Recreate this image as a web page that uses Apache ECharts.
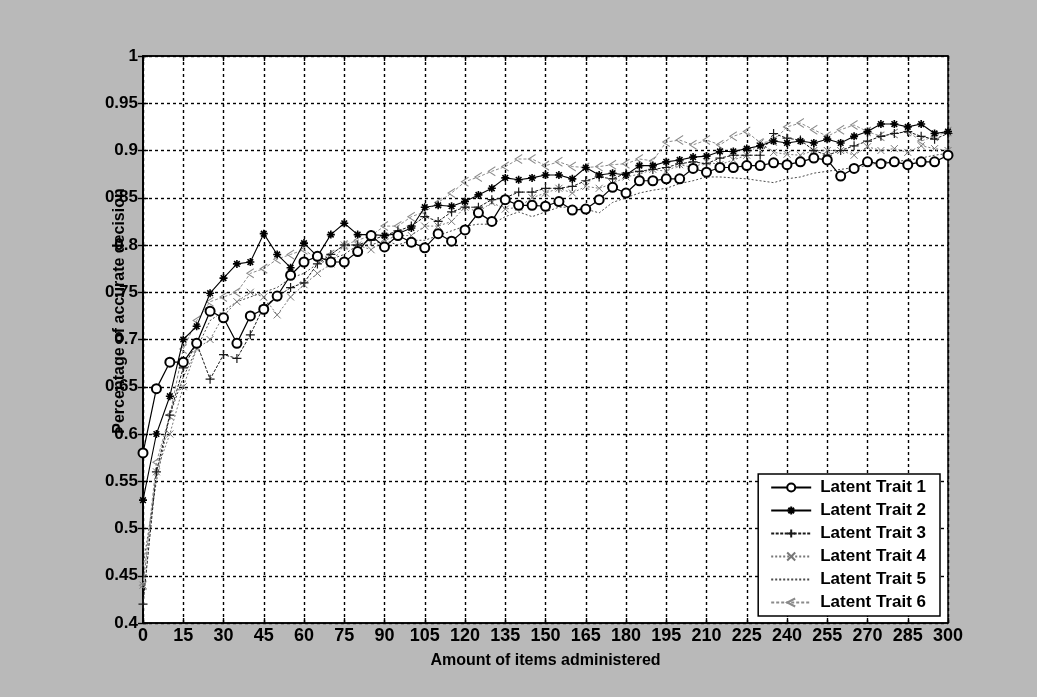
<!DOCTYPE html>
<html>
<head>
<meta charset="utf-8">
<script src="https://cdn.jsdelivr.net/npm/echarts@6/dist/echarts.min.js"></script>
<style>
  html, body { margin: 0; padding: 0; background: #b9b9b9; }
  #chart { width: 1037px; height: 697px; }
</style>
</head>
<body>
<div id="chart"></div>
<script>
// Number of items administered at each measurement
const items = [0,5,10,15,20,25,30,35,40,45,50,55,60,65,70,75,80,85,90,95,100,
  105,110,115,120,125,130,135,140,145,150,155,160,165,170,175,180,185,190,195,200,
  205,210,215,220,225,230,235,240,245,250,255,260,265,270,275,280,285,290,295,300];

// Proportion of accurate decisions per latent trait
const trait1 = [0.580,0.648,0.676,0.676,0.696,0.730,0.723,0.696,0.725,0.732,0.746,
  0.768,0.782,0.788,0.782,0.782,0.793,0.810,0.798,0.810,0.803,
  0.797,0.812,0.804,0.816,0.834,0.825,0.848,0.842,0.842,0.841,
  0.846,0.837,0.838,0.848,0.861,0.855,0.868,0.868,0.870,0.870,
  0.881,0.877,0.882,0.882,0.884,0.884,0.887,0.885,0.888,0.892,
  0.890,0.873,0.881,0.888,0.886,0.888,0.885,0.888,0.888,0.895];
const trait2 = [0.530,0.600,0.640,0.700,0.714,0.749,0.765,0.780,0.782,0.812,0.790,
  0.776,0.802,0.788,0.811,0.823,0.811,0.811,0.810,0.812,0.818,
  0.840,0.842,0.841,0.846,0.853,0.860,0.871,0.869,0.871,0.874,
  0.874,0.870,0.882,0.874,0.876,0.874,0.884,0.884,0.888,0.890,
  0.893,0.894,0.899,0.899,0.902,0.905,0.910,0.908,0.910,0.908,
  0.912,0.908,0.915,0.920,0.928,0.928,0.925,0.928,0.918,0.920];
const trait3 = [0.420,0.560,0.620,0.670,0.696,0.658,0.684,0.680,0.705,0.735,0.745,
  0.755,0.760,0.780,0.790,0.800,0.800,0.805,0.810,0.815,0.820,
  0.830,0.825,0.835,0.840,0.840,0.848,0.850,0.856,0.856,0.860,
  0.860,0.862,0.868,0.872,0.870,0.876,0.878,0.880,0.882,0.886,
  0.888,0.886,0.892,0.895,0.895,0.895,0.918,0.913,0.911,0.900,
  0.895,0.900,0.905,0.910,0.915,0.918,0.920,0.915,0.912,0.918];
const trait4 = [0.440,0.560,0.600,0.650,0.690,0.700,0.725,0.740,0.750,0.745,0.726,
  0.745,0.758,0.770,0.780,0.800,0.800,0.795,0.805,0.810,0.810,
  0.820,0.820,0.825,0.840,0.835,0.845,0.838,0.840,0.850,0.855,
  0.860,0.855,0.862,0.860,0.865,0.872,0.875,0.880,0.878,0.885,
  0.882,0.888,0.885,0.890,0.895,0.908,0.898,0.896,0.895,0.900,
  0.900,0.900,0.895,0.904,0.900,0.902,0.898,0.905,0.902,0.900];
const trait5 = [0.460,0.550,0.620,0.660,0.690,0.720,0.730,0.740,0.745,0.750,0.755,
  0.765,0.770,0.780,0.785,0.790,0.800,0.800,0.805,0.800,0.805,
  0.805,0.810,0.815,0.820,0.822,0.822,0.830,0.835,0.830,0.835,
  0.840,0.840,0.838,0.834,0.845,0.850,0.855,0.858,0.860,0.865,
  0.868,0.872,0.872,0.871,0.870,0.868,0.866,0.870,0.872,0.876,
  0.878,0.880,0.882,0.884,0.888,0.888,0.890,0.892,0.895,0.897];
const trait6 = [0.440,0.570,0.620,0.690,0.720,0.740,0.745,0.750,0.770,0.775,0.785,
  0.790,0.795,0.785,0.790,0.800,0.805,0.810,0.820,0.820,0.830,
  0.835,0.845,0.855,0.867,0.872,0.878,0.883,0.891,0.891,0.884,
  0.888,0.883,0.882,0.883,0.885,0.886,0.891,0.889,0.909,0.911,
  0.906,0.911,0.906,0.915,0.920,0.908,0.910,0.925,0.929,0.922,
  0.915,0.922,0.927,0.920,0.915,0.918,0.920,0.910,0.915,0.920];

const traitNames = ['Latent Trait 1','Latent Trait 2','Latent Trait 3',
  'Latent Trait 4','Latent Trait 5','Latent Trait 6'];

const yTicks = { min: 0.4, max: 1, step: 0.05 };
const xTicks = { min: 0, max: 300, step: 15 };

const FONT = '"Liberation Sans", Arial, sans-serif';

// marker shapes drawn as stroked paths
const SYM_STAR = 'path://M5,0L5,10M0,5L10,5M1.5,1.5L8.5,8.5M8.5,1.5L1.5,8.5';
const SYM_PLUS = 'path://M5,0L5,10M0,5L10,5';
const SYM_X = 'path://M0,0L10,10M10,0L0,10';
const SYM_LT = 'path://M10,0L0,5L10,10';

function pair(vals) { return items.map((x, i) => [x, vals[i]]); }

function lineSeries(name, vals, opts) {
  return {
    name: name,
    type: 'line',
    data: pair(vals),
    symbol: opts.symbol,
    symbolSize: opts.size,
    showSymbol: opts.symbol !== 'none',
    lineStyle: { color: opts.color, width: opts.width, type: opts.dash },
    itemStyle: {
      color: opts.fill,
      borderColor: opts.color,
      borderWidth: opts.bw
    },
    emphasis: { disabled: true },
    animation: false,
    z: opts.z
  };
}

const series = [
  lineSeries(traitNames[0], trait1, { symbol: 'emptyCircle', size: 9, color: '#000000', fill: '#000000', bw: 1.3, width: 1.2, dash: 'solid', z: 5 }),
  lineSeries(traitNames[1], trait2, { symbol: SYM_STAR, size: 8, color: '#000000', fill: 'none', bw: 1.6, width: 1.1, dash: 'solid', z: 4 }),
  lineSeries(traitNames[2], trait3, { symbol: SYM_PLUS, size: 9, color: '#1a1a1a', fill: 'none', bw: 1.2, width: 1, dash: [3, 1.5], z: 3 }),
  lineSeries(traitNames[3], trait4, { symbol: SYM_X, size: 7, color: '#777777', fill: 'none', bw: 1, width: 1, dash: [2, 2], z: 2 }),
  lineSeries(traitNames[4], trait5, { symbol: 'none', size: 0, color: '#4a4a4a', fill: 'none', bw: 1, width: 1, dash: [2, 2], z: 2 }),
  lineSeries(traitNames[5], trait6, { symbol: SYM_LT, size: [7, 9], color: '#8a8a8a', fill: 'none', bw: 1, width: 1, dash: [3, 2], z: 2 })
];

// legend entries; the fifth trait has no marker, only its dotted line
const legendData = traitNames.map((n, i) => (i === 4 ? { name: n, itemStyle: { opacity: 0 } } : { name: n }));

const grid = { left: 143, top: 56, right: 89, bottom: 74 };
const gridDash = { color: '#000', type: [3, 3], width: 1.4 };

const chart = echarts.init(document.getElementById('chart'), null, { renderer: 'canvas' });
chart.setOption({
  backgroundColor: '#b9b9b9',
  animation: false,
  grid: Object.assign({ show: true, backgroundColor: '#ffffff', borderColor: '#000', borderWidth: 1.5 }, grid),
  xAxis: [{
    type: 'value',
    min: xTicks.min, max: xTicks.max, interval: xTicks.step,
    position: 'bottom',
    axisLine: { show: true, lineStyle: { color: '#000', width: 1.5 } },
    axisTick: { show: true, inside: true, length: 5, lineStyle: { color: '#000', width: 1.4 } },
    axisLabel: { color: '#000', fontFamily: FONT, fontWeight: 'bold', fontSize: 18, margin: 4 },
    splitLine: { show: true, lineStyle: gridDash },
    name: 'Amount of items administered',
    nameLocation: 'middle',
    nameGap: 30,
    nameTextStyle: { color: '#000', fontFamily: FONT, fontWeight: 'bold', fontSize: 16 }
  }, {
    type: 'value',
    min: xTicks.min, max: xTicks.max, interval: xTicks.step,
    position: 'top',
    axisLine: { show: true, lineStyle: { color: '#000', width: 1.5 } },
    axisTick: { show: true, inside: true, length: 5, lineStyle: { color: '#000', width: 1.4 } },
    axisLabel: { show: false },
    splitLine: { show: false }
  }],
  yAxis: [{
    type: 'value',
    min: yTicks.min, max: yTicks.max, interval: yTicks.step,
    position: 'left',
    axisLine: { show: true, lineStyle: { color: '#000', width: 1.5 } },
    axisTick: { show: true, inside: true, length: 5, lineStyle: { color: '#000', width: 1.4 } },
    axisLabel: { color: '#000', fontFamily: FONT, fontWeight: 'bold', fontSize: 17, margin: 5 },
    splitLine: { show: true, lineStyle: gridDash }
  }, {
    type: 'value',
    min: yTicks.min, max: yTicks.max, interval: yTicks.step,
    position: 'right',
    axisLine: { show: true, lineStyle: { color: '#000', width: 1.5 } },
    axisTick: { show: true, inside: true, length: 5, lineStyle: { color: '#000', width: 1.4 } },
    axisLabel: { show: false },
    splitLine: { show: false }
  }],
  legend: {
    data: legendData,
    orient: 'vertical',
    right: 97,
    bottom: 81,
    backgroundColor: '#ffffff',
    borderColor: '#000',
    borderWidth: 1.5,
    borderRadius: 0,
    padding: [5, 14, 5, 12],
    itemWidth: 40,
    itemHeight: 10,
    itemGap: 6,
    textStyle: { color: '#000', fontFamily: FONT, fontWeight: 'bold', fontSize: 17, padding: [0, 0, 0, 4] },
    selectedMode: false
  },
  graphic: [{
    type: 'text',
    x: 120,
    y: 311,
    rotation: Math.PI / 2,
    style: {
      text: 'Percentage of accurate decision',
      fill: '#000',
      font: 'bold 16px ' + FONT,
      align: 'center',
      verticalAlign: 'middle'
    }
  }],
  series: series
});
</script>
</body>
</html>
